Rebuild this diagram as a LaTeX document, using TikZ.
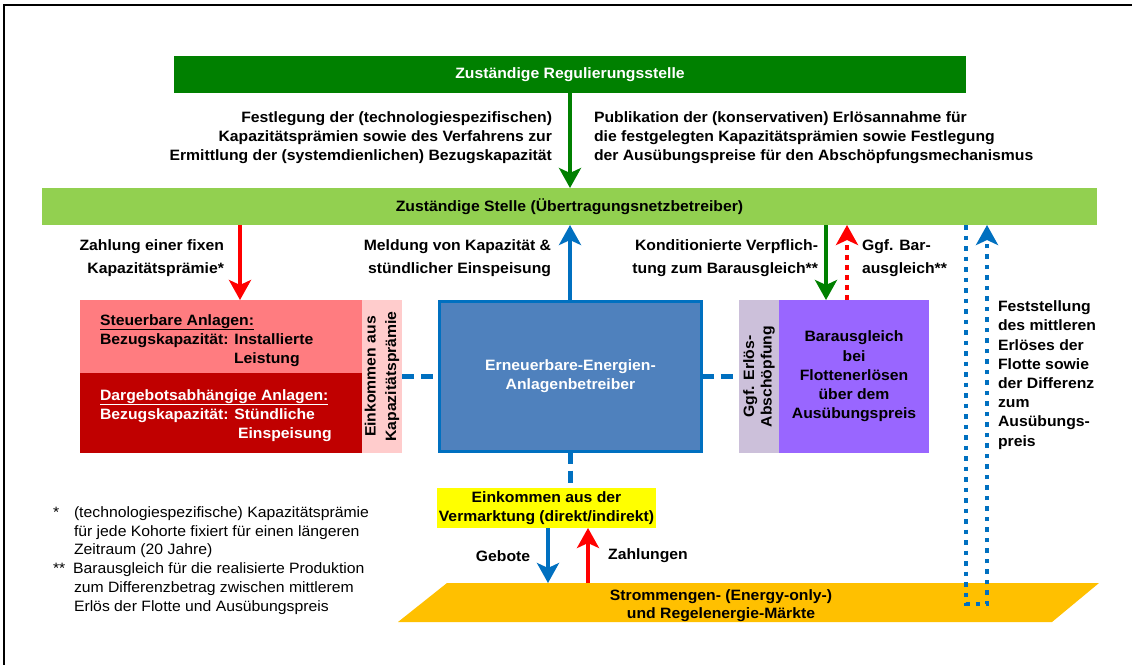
\documentclass[tikz,border=0pt]{standalone}
\usepackage{fontspec}
\setmainfont{Liberation Sans}[FakeStretch=1.05]
\usetikzlibrary{arrows.meta}
\definecolor{dkgreen}{RGB}{0,128,0}
\definecolor{ltgreen}{RGB}{146,208,80}
\definecolor{myred}{RGB}{255,0,0}
\definecolor{myblue}{RGB}{0,112,192}
\definecolor{pinkA}{RGB}{255,124,128}
\definecolor{redB}{RGB}{192,0,0}
\definecolor{pinkC}{RGB}{255,204,204}
\definecolor{ernfill}{RGB}{79,129,189}
\definecolor{ggfc}{RGB}{204,192,218}
\definecolor{purp}{RGB}{153,102,255}
\definecolor{yelc}{RGB}{255,255,0}
\definecolor{mktc}{RGB}{255,192,0}
\begin{document}
\begin{tikzpicture}[x=1pt,y=-1pt,
  font=\fontsize{15}{19}\selectfont\bfseries,
  box/.style={inner sep=0pt, outer sep=0pt, align=center},
  txt/.style={inner sep=0pt, outer sep=0pt},
  arr/.style={line width=4.5pt, -{Stealth[length=20pt,width=22pt,inset=5pt]}},
  dotl/.style={line width=4.5pt, dash pattern=on 4.5pt off 6pt},
  dashc/.style={myblue, line width=4.5pt, dash pattern=on 12pt off 7pt},
  fnote/.style={inner sep=0pt, outer sep=0pt, anchor=base west, font=\normalfont\fontsize{15}{19}\selectfont}]
\useasboundingbox (0,0) rectangle (1132,665);
\fill[white] (0,0) rectangle (1132,665);
\draw[line width=2.5pt] (1132,5) -- (4,5) -- (4,665);

% column coordinates
\coordinate (cRed) at (240,0);
\coordinate (cBlue) at (570,0);
\coordinate (cG) at (826,0);
\coordinate (cRD) at (847,0);
\coordinate (cD1) at (966,0);
\coordinate (cD2) at (987,0);
\coordinate (cGeb) at (548,0);
\coordinate (cZah) at (588,0);
\coordinate (mtop) at (0,583);
\coordinate (dotbot) at (0,604);

% top regulator
\node[box, fill=dkgreen, text=white, minimum width=792pt, minimum height=37pt] (reg) at (570,74.5) {Zuständige Regulierungsstelle};

\node[txt, anchor=east, align=right] (festl) at (552,138) {Festlegung der (technologiespezifischen)\\Kapazitätsprämien sowie des Verfahrens zur\\Ermittlung der (systemdienlichen) Bezugskapazität};
\node[txt, anchor=west, align=left] (publ) at (594,138) {Publikation der (konservativen) Erlösannahme für\\die festgelegten Kapazitätsprämien sowie Festlegung\\der Ausübungspreise für den Abschöpfungsmechanismus};

% TSO bar
\node[box, fill=ltgreen, minimum width=1055pt, minimum height=37pt] (bar) at (569.5,206.5) {Zuständige Stelle (Übertragungsnetzbetreiber)};

% left boxes
\node[box, fill=pinkA, minimum width=282pt, minimum height=73pt] (steuer) at (221,336.5) {};
\node[box, fill=redB, minimum width=282pt, minimum height=80pt] (darg) at (221,413) {};
\node[box, fill=pinkC, rotate=90, minimum width=153pt, minimum height=40pt, font=\fontsize{15}{20.5}\selectfont\bfseries] (eink) at (382,376.5) {Einkommen aus\\Kapazitätsprämie};

\node[txt, anchor=base west] (s1) at (100,325) {\underline{Steuerbare Anlagen:}};
\node[txt, anchor=base west] (s2) at (100,344) {Bezugskapazität: Installierte};
\node[txt, anchor=base west] (s3) at (234,363) {Leistung};
\node[txt, anchor=base west, text=white] (d1) at (100,400) {\underline{Dargebotsabhängige Anlagen:}};
\node[txt, anchor=base west, text=white] (d2) at (100,419) {Bezugskapazität: Stündliche};
\node[txt, anchor=base west, text=white] (d3) at (238,438) {Einspeisung};

% central operator
\node[box, fill=ernfill, draw=myblue, line width=3pt, text=white, minimum width=262pt, minimum height=150pt] (ern) at (570.5,376.5) {Erneuerbare-Energien-\\Anlagenbetreiber};

% right boxes
\node[box, fill=ggfc, rotate=90, minimum width=153pt, minimum height=40pt, font=\fontsize{15}{17.5}\selectfont\bfseries] (ggf) at (759,376.5) {Ggf. Erlös-\\Abschöpfung};
\node[box, fill=purp, minimum width=150pt, minimum height=153pt, font=\fontsize{15}{19.2}\selectfont\bfseries] (bar2) at (854,376.5) {Barausgleich\\bei\\Flottenerlösen\\über dem\\Ausübungspreis};

% marketing income
\node[box, fill=yelc, minimum width=219pt, minimum height=40pt] (yel) at (546.5,508) {Einkommen aus der\\Vermarktung (direkt/indirekt)};

% market
\fill[mktc] (447,583) -- (1099,583) -- (1052,622) -- (398,622) -- cycle;
\node[txt, align=center, font=\fontsize{15}{18}\selectfont\bfseries] (mkt) at (721,605.5) {Strommengen- (Energy-only-)\\und Regelenergie-Märkte};

% dashed connectors
\draw[dashc] (eink.south) -- (ern.west);
\draw[dashc] (ern.east) -- (ggf.north);
\draw[dashc] (ern.south) -- (ern.south |- yel.north);

% arrows
\draw[arr, dkgreen] (reg.south -| cBlue) -- (bar.north -| cBlue);
\draw[arr, myred] (bar.south -| cRed) -- (steuer.north -| cRed);
\draw[arr, myblue] (ern.north -| cBlue) -- (bar.south -| cBlue);
\draw[arr, dkgreen] (bar.south -| cG) -- (bar2.north -| cG);
\draw[arr, myred, dash pattern=on 5pt off 5pt] (bar2.north -| cRD) -- (bar.south -| cRD);
\draw[arr, myblue] (yel.south -| cGeb) -- (mtop -| cGeb);
\draw[arr, myred] (mtop -| cZah) -- (yel.south -| cZah);
\draw[dotl, myblue, -{Stealth[length=20pt,width=22pt,inset=5pt]}] (bar.south -| cD1) -- (dotbot -| cD1) -- (dotbot -| cD2) -- (bar.south -| cD2);

% arrow labels
\node[txt, anchor=east, align=right, font=\fontsize{15}{23}\selectfont\bfseries] (lzahl) at (224,258) {Zahlung einer fixen\\Kapazitätsprämie*};
\node[txt, anchor=east, align=right, font=\fontsize{15}{23}\selectfont\bfseries] (lmeld) at (551,258) {Meldung von Kapazität \&\\stündlicher Einspeisung};
\node[txt, anchor=east, align=right, font=\fontsize{15}{23}\selectfont\bfseries] (lkond) at (818,258) {Konditionierte Verpflich-\\tung zum Barausgleich**};
\node[txt, anchor=west, align=left, font=\fontsize{15}{23}\selectfont\bfseries] (lggf) at (862,258) {Ggf. Bar-\\ausgleich**};
\node[txt, anchor=west, align=left, font=\fontsize{15}{19.2}\selectfont\bfseries] (lfest) at (998,375) {Feststellung\\des mittleren\\Erlöses der\\Flotte sowie\\der Differenz\\zum\\Ausübungs-\\preis};
\node[txt] (lgeb) at (503,556) {Gebote};
\node[txt] (lzahlg) at (648,556) {Zahlungen};

% footnotes
\node[fnote] (fs1) at (53,517) {*};
\node[fnote] (fn1) at (74,517) {(technologiespezifische) Kapazitätsprämie};
\node[fnote] (fn2) at (74,536) {für jede Kohorte fixiert für einen längeren};
\node[fnote] (fn3) at (74,554) {Zeitraum (20 Jahre)};
\node[fnote] (fs2) at (53,573) {**};
\node[fnote] (fn4) at (73,573) {Barausgleich für die realisierte Produktion};
\node[fnote] (fn5) at (74,592) {zum Differenzbetrag zwischen mittlerem};
\node[fnote] (fn6) at (74,611) {Erlös der Flotte und Ausübungspreis};
\end{tikzpicture}
\end{document}
